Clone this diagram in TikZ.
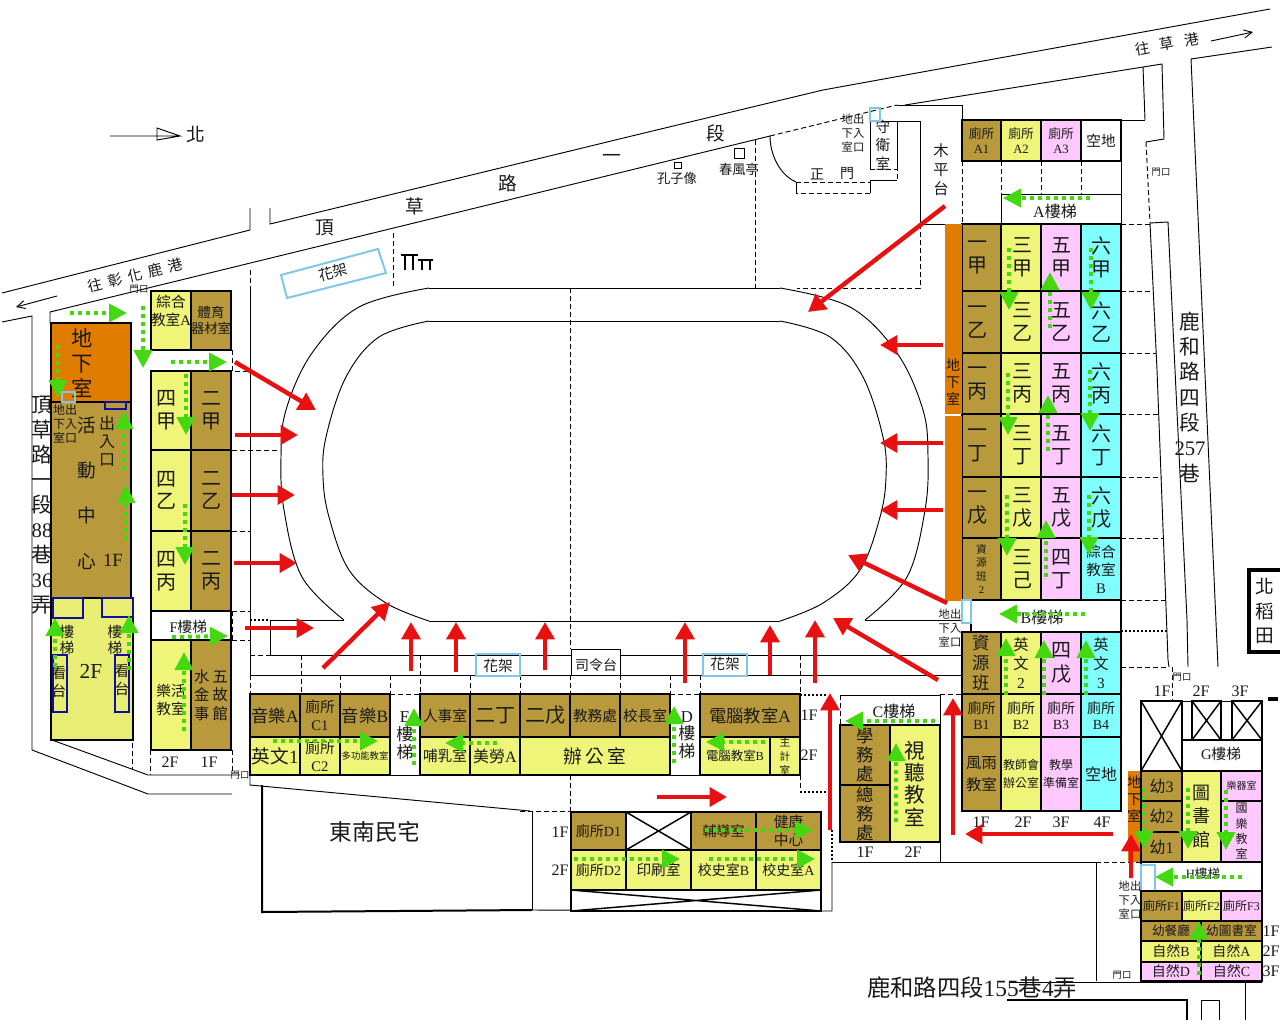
\documentclass[tikz,border=0pt]{standalone}
\usepackage{fontspec}
\setmainfont{Noto Sans CJK TC}
\newfontfamily\lf{Liberation Serif}
\usetikzlibrary{arrows.meta}
\definecolor{brn}{RGB}{184,153,60}
\definecolor{yel}{RGB}{238,245,120}
\definecolor{yeb}{RGB}{232,238,115}
\definecolor{pnk}{RGB}{255,200,255}
\definecolor{cya}{RGB}{128,255,255}
\definecolor{org}{RGB}{224,124,0}
\definecolor{grn}{RGB}{68,216,17}
\definecolor{rd}{RGB}{232,16,16}
\definecolor{lbl}{RGB}{128,200,232}
\definecolor{nav}{RGB}{16,16,160}
\newcommand\fsz[2]{\fontsize{#1pt}{#2pt}\selectfont}
\newcommand\fsa[1]{\fontsize{#1pt}{\dimexpr #1pt*5/4\relax}\selectfont}
\newcommand\La[1]{{\lf #1}}
\newcommand\gp{\hspace{4.5pt}}
\newcounter{nn}
\newcommand\room[7][]{\stepcounter{nn}%
  \path[rm,fill=#6] (#2,#3) rectangle (#4,#5);
  \node[tx,name=r\arabic{nn},#1] at ({(#2+#4)/2},{(#3+#5)/2}) {#7};}
\newcommand\tx[4][]{\stepcounter{nn}%
  \node[tx,name=t\arabic{nn},font=\fsa{#2},#1] at #3 {#4};}
\tikzset{
  tx/.style={inner sep=0pt,outer sep=0pt,align=center,text=black!90},
  rm/.style={draw=black,line width=0.9pt},
  ln/.style={draw=black,line width=0.7pt},
  dl/.style={draw=black,line width=0.7pt,dash pattern=on 3.75pt off 2.25pt},
  dt/.style={draw=black,line width=1.2pt,dash pattern=on 1.5pt off 1.5pt},
  xb/.style={draw=black,line width=1.1pt},
  lb/.style={draw=lbl,line width=1.5pt},
  nv/.style={draw=nav,line width=1.6pt},
  rar/.style={draw=rd,line width=3.3pt,-{Triangle[length=13pt,width=14pt]}},
  gar/.style={draw=grn,line width=3pt,dash pattern=on 3pt off 3pt,-{Triangle[length=13.5pt,width=13.5pt]}},
  s8/.style={font=\fsz{8}{10.5}},
  s9/.style={font=\fsz{9.5}{11.5}},
  s10/.style={font=\fsz{10.5}{12.5}},
  s11/.style={font=\fsz{11}{13.5}},
  s12/.style={font=\fsz{12}{14}},
  s13/.style={font=\fsz{13}{15}},
  s14/.style={font=\fsz{14}{16.5}},
  s15/.style={font=\fsz{15}{17}},
}
\begin{document}
\begin{tikzpicture}[x=0.75pt,y=-0.75pt]
\useasboundingbox (0,0) rectangle (1280,1024);
\fill[white] (0,0) rectangle (1280,1024);
% ---- roads
\path[ln] (250,208)--(250,230)--(2,293);
\path[ln] (2,322)--(32,316)--(32,750)--(148,794)--(232,794);
\path[ln] (50,323)--(50,312)--(770,136);
\path[ln] (270,208)--(270,224)--(640,134)--(823,90)--(1270,9);
\path[dl] (770,136)--(897,105);
\path[ln] (905,105)--(1162,64)--(1164,139)--(1146,142);
\path[ln] (1143,67)--(1145,120);
\path[ln] (1272,47)--(1191,59)--(1218,667);
\path[dl] (1146,142)--(1150,223);
\path[ln] (1150,223)--(1168,222)--(1175,370)--(1187,620)--(1188,667);
\path[ln] (1150,223)--(1157,370)--(1168,660)--(1169,667);
\path[dl] (1172,667)--(1172,700);
% ---- campus outline
\path[ln] (897,105)--(962,105)--(962,120)--(1145,120);
\path[ln] (870,121)--(920,121)--(920,224)--(1121,224);
\path[dl] (920,224)--(920,288)--(797,288);
\path[ln] (870,121)--(870,169);
\path[ln] (897,121)--(897,169);
\path[dl] (870,169)--(897,169)--(897,180);
\path[ln] (897,180)--(870,180)--(870,193);
\path[dl] (870,193)--(796,193);
\path[ln] (796,193)--(796,182);
\path[dl] (796,182)--(870,182);
\path[ln] (770,136) .. controls (770,155) and (780,175) .. (796,182);
\path[dl] (755,140)--(755,288);
\path[dl] (250,270)--(250,290);
\path[ln] (250,290)--(250,677);
\path[dl] (393,233)--(393,288);
\path[dl] (570,288)--(570,649);
% track
\path[ln] (429,288)--(780,288);
\path[ln] (429,321)--(780,321);
\path[ln] (429,621)--(780,621);
\path[ln] plot[smooth,tension=0.6] coordinates {(780,288)(850,307)(897,353)(923,410)(928,457)(925,510)(907,577)(865,620)};
\path[ln] plot[smooth,tension=0.6] coordinates {(780,321)(830,337)(863,377)(883,437)(886,477)(880,517)(860,570)(823,603)(780,621)};
\path[ln] plot[smooth,tension=0.6] coordinates {(429,288)(359,307)(312,353)(286,410)(281,457)(284,510)(302,577)(344,620)};
\path[ln] plot[smooth,tension=0.6] coordinates {(429,321)(379,337)(346,377)(326,437)(323,477)(329,517)(349,570)(386,603)(429,621)};
\path[ln] (270,620)--(344,620);
\path[ln] (865,620)--(962,620);
\path[dt] (250,620)--(270,620);
\path[ln] (270,620)--(270,655)--(962,655);
\path[dl] (250,655)--(270,655);
\path[ln] (250,675)--(962,675);
\foreach \xx/\yy in {250/675,301/655,340/675,390/675,420/655,470/675,520/675,570/675,620/675,670/675,700/675,800/655}{\path[dl] (\xx,\yy)--(\xx,693);}
\path[dl] (390,694)--(420,694);
\path[dl] (670,694)--(700,694);
\path[dt] (800,695)--(828,695);
\path[dl] (800,695)--(800,792);
\path[dt] (800,792)--(828,792);
\path[ln] (840,695)--(940,695);
\path[dl] (840,695)--(840,725);
\path[dl] (940,695)--(940,862);
\path[dt] (832,830)--(832,862);
\path[ln] (832,862)--(1096,862);
\path[dl] (1096,862)--(1141,862);
\path[ln] (832,862)--(832,911)--(532,910);
\path[ln] (532,811)--(532,910);
\path[dl] (520,811)--(570,811);
\path[dl] (570,775)--(570,811);
\path[ln] (250,775)--(250,785)--(530,811);
\path[draw=black,line width=1.5pt] (262,785)--(262,912)--(532,910);
\path[ln] (52,740)--(148,775)--(240,775);
\path[dl] (132,743)--(132,770);
\path[dl] (150,750)--(150,775);
\path[dl] (232,350)--(232,371)--(250,371);
\path[dl] (232,450)--(280,450);
\path[dl] (232,531)--(250,531);
\path[dl] (232,611)--(232,640);
\path[dl] (232,611)--(250,611);
\path[dl] (232,640)--(250,640);
\path[dl] (232,750)--(232,773);
% right side dashes
\path[dl] (1121,224)--(1150,224);
\path[dl] (1121,291)--(1153,291);
\path[dl] (1121,353)--(1156,353);
\path[dl] (1121,414)--(1159,414);
\path[dl] (1121,477)--(1162,477);
\path[dl] (1121,538)--(1164,538);
\path[dl] (1121,600)--(1168,600);
\path[dt] (1121,631)--(1168,631);
\path[dl] (1121,667)--(1168,667);
\path[dl] (962,161)--(962,224);
\foreach \xx in {1001,1041,1081}{\path[dl] (\xx,161)--(\xx,194);}
\path[ln] (1121,120)--(1121,224);
\path[ln] (1001,194)--(1121,194);
\path[ln] (1001,194)--(1001,224);
\path[ln] (940,655)--(962,655);
\path[dl] (940,694)--(962,694);
% bottom right road
\path[ln] (1096,862)--(1096,981);
\path[ln] (1010,982)--(1262,982);
\path[draw=black,line width=1pt] (1007,1000)--(1187,1000)--(1187,1020);
\path[ln] (1201,1020)--(1201,1000)--(1219,1000)--(1219,1020);
\path[ln] (1245,981)--(1245,1020);
% flower racks
\path[lb] (281,275)--(378,249)--(386,273)--(287,298)--cycle;
\tx[rotate=15]{11}{(333,272)}{花架}
\path[lb] (476,654) rectangle (520,676);
\tx{11}{(498,666)}{花架}
\path[lb] (703,654) rectangle (747,676);
\tx{11}{(725,664)}{花架}
\path[ln,fill=white] (571,649) rectangle (620,675);
\tx{10.5}{(596,665)}{司令台}
% pull-up bars
\path[draw=black,line width=1.5pt] (401,255)--(418,255) (405,255)--(405,270) (413,255)--(413,270) (418,260)--(433,260) (422,260)--(422,270) (430,260)--(430,270);
% monuments
\path[ln] (674,162) rectangle (681,168);
\path[ln] (734,148) rectangle (744,158);
\tx{10}{(677,178)}{孔子像}
\tx{10}{(739,169)}{春風亭}
\tx{10.5}{(817,174)}{正}
\tx{10.5}{(847,174)}{門}
\tx{8.5}{(853,133)}{地出\\下入\\室口}
\tx{11}{(883,145)}{守\\衛\\室}
\tx{11.5}{(941,170)}{木\\平\\台}
\path[lb] (870,108) rectangle (880,121);
% road labels
\tx{14}{(325,228)}{頂}
\tx{14}{(415,206)}{草}
\tx{14}{(508,183)}{路}
\tx{14}{(612,158)}{一}
\tx{14}{(716,133)}{段}
\tx[rotate=14]{11}{(135,275)}{往\gp 彰\gp 化\gp 鹿\gp 港}
\tx[rotate=10]{11}{(1167,44)}{往\hspace{7.5pt}草\hspace{7.5pt}港}
\path[ln,-{Straight Barb[length=6pt,width=6pt]}] (57,296)--(16,307);
\path[ln,-{Straight Barb[length=6pt,width=6pt]}] (1211,41)--(1253,32);
\path[ln] (110,136)--(180,136)--(157,128)--(157,140)--(180,136);
\tx{14}{(196,134)}{北}
\tx{7}{(139,289)}{門口}
\tx{7}{(1161,172)}{門口}
\tx{7}{(240,775)}{門口}
\tx{7}{(1182,677)}{門口}
\tx{7}{(1122,975)}{門口}
\tx[font=\fsz{15.5}{18.8}]{15}{(42,505)}{頂\\草\\路\\一\\段\\\La{88}\\巷\\\La{36}\\弄}
\tx[font=\fsz{15.5}{19}]{15}{(1190,397)}{鹿\\和\\路\\四\\段\\\La{257}\\巷}
\tx{17}{(375,832)}{東南民宅}
\tx{17.5}{(972,988)}{鹿和路四段\La{155}巷\La{4}弄}
% ---- activity center
\room[s15]{51}{323}{131}{402}{org}{}
\tx[font=\fsz{16}{18.8}]{16}{(82,363)}{地\\下\\室}
\room{51}{402}{131}{598}{brn}{}
\room{51}{598}{133}{740}{yeb}{}
\path[nv] (53,598) rectangle (83,618);
\path[nv] (102,598) rectangle (133,617);
\path[nv] (53,655) rectangle (67,712);
\path[nv] (115,655) rectangle (129,712);
\path[nv] (105,402) rectangle (126,409);
\path[lb] (62,392) rectangle (75,402);
\tx[font=\fsz{9}{10.5}]{9}{(65,424)}{地出\\下入\\室口}
\tx[font=\fsz{12}{13.5}]{12}{(107,441)}{出\\入\\口}
\tx[font=\fsz{14}{34}]{14}{(87,493)}{活\\動\\中\\心}
\tx{14}{(113,560)}{\La{1F}}
\tx{16}{(91,671)}{\La{2F}}
\tx[font=\fsz{11}{12.5}]{11}{(67,640)}{樓\\梯}
\tx[font=\fsz{11}{12.5}]{11}{(115,640)}{樓\\梯}
\tx[font=\fsz{11}{13}]{11}{(59,682)}{看\\台}
\tx[font=\fsz{11}{13}]{11}{(122,680)}{看\\台}
% ---- left rooms
\room[s11,yshift=7pt]{151}{291}{191}{350}{yel}{綜合\\教室\La{A}}
\room[font=\fsz{10}{12}]{191}{291}{231}{350}{brn}{體育\\器材室}
\room[s15,xshift=-3.4pt]{151}{371}{191}{450}{yel}{四\\甲}
\room[s15]{191}{371}{231}{450}{brn}{二\\甲}
\room[s15,xshift=-3.4pt]{151}{450}{191}{531}{yel}{四\\乙}
\room[s15]{191}{450}{231}{531}{brn}{二\\乙}
\room[s15,xshift=-3.4pt]{151}{531}{191}{611}{yel}{四\\丙}
\room[s15]{191}{531}{231}{611}{brn}{二\\丙}
\room[s11,xshift=-2pt,yshift=-1pt]{151}{611}{231}{640}{white}{\La{F}樓梯}
\room[s11,yshift=-3.5pt]{151}{640}{191}{750}{yel}{樂活\\教室}
\room[font=\fsz{11.5}{14}]{191}{640}{231}{750}{brn}{水\hspace{2.5pt}五\\金\hspace{2.5pt}故\\事\hspace{2.5pt}館}
\tx{12}{(170,762)}{\La{2F}}
\tx{12}{(209,762)}{\La{1F}}
% ---- centre block
\room[s13]{250}{694}{300}{737}{brn}{音樂\La{A}}
\room[s11]{300}{694}{340}{737}{brn}{廁所\\\La{C1}}
\room[s13]{340}{694}{390}{737}{brn}{音樂\La{B}}
\room[s11]{420}{694}{470}{737}{brn}{人事室}
\room[s15]{470}{694}{520}{737}{brn}{二丁}
\room[s15]{520}{694}{570}{737}{brn}{二戊}
\room[s11]{570}{694}{620}{737}{brn}{教務處}
\room[s11]{620}{694}{670}{737}{brn}{校長室}
\room[s13]{700}{694}{800}{737}{brn}{電腦教室\La{A}}
\room[s14]{250}{737}{300}{775}{yel}{英文\La{1}}
\room[s11]{300}{737}{340}{775}{yel}{廁所\\\La{C2}}
\room[font=\fsz{7}{9}]{340}{737}{390}{775}{yel}{多功能教室}
\room[s11]{420}{737}{470}{775}{yel}{哺乳室}
\room[s12]{470}{737}{520}{775}{yel}{美勞\La{A}}
\room[s14]{520}{737}{670}{775}{yel}{辦\,公\,室}
\room[font=\fsz{9.3}{11}]{700}{737}{770}{775}{yel}{電腦教室\La{B}}
\room[s8]{770}{737}{800}{775}{yel}{主\\計\\室}
\path[ln] (390,694)--(390,775)--(420,775)--(420,694);
\path[ln] (670,694)--(670,775)--(700,775)--(700,694);
\tx[font=\fsz{12.5}{13.5}]{12}{(405,736)}{\La{E}\\樓\\梯}
\tx[font=\fsz{12.5}{13}]{12}{(687,735)}{\La{D}\\樓\\梯}
\tx{12}{(809,715)}{\La{1F}}
\tx{12}{(809,755)}{\La{2F}}
% ---- C wing
\room[font=\fsz{13}{14.3}]{840}{725}{890}{785}{brn}{學\\務\\處}
\room[font=\fsz{13}{14.3}]{840}{785}{890}{842}{brn}{總\\務\\處}
\room[font=\fsz{15.5}{16.8}]{890}{725}{940}{842}{yel}{視\\聽\\教\\室}
\tx{12}{(894,711)}{\La{C}樓梯}
\tx{12}{(865,852)}{\La{1F}}
\tx{12}{(913,852)}{\La{2F}}
% ---- D wing
\room[s10]{571}{812}{626}{850}{brn}{廁所\La{D1}}
\room{626}{812}{691}{850}{white}{}
\path[xb] (626,812)--(691,850) (626,850)--(691,812);
\room[s10]{691}{812}{756}{850}{brn}{輔導室}
\room[s11]{756}{812}{821}{850}{brn}{健康\\中心}
\room[s10]{571}{850}{626}{890}{yel}{廁所\La{D2}}
\room[s11]{626}{850}{691}{890}{yel}{印刷室}
\room[s10]{691}{850}{756}{890}{yel}{校史室\La{B}}
\room[s10]{756}{850}{821}{890}{yel}{校史室\La{A}}
\room{571}{890}{821}{911}{white}{}
\path[xb] (571,890)--(821,911) (571,911)--(821,890);
\tx{12}{(560,832)}{\La{1F}}
\tx{12}{(560,870)}{\La{2F}}
% ---- right block
\room[s9]{962}{120}{1001}{161}{brn}{廁所\\\La{A1}}
\room[s9]{1001}{120}{1041}{161}{yel}{廁所\\\La{A2}}
\room[s9]{1041}{120}{1081}{161}{pnk}{廁所\\\La{A3}}
\room[s11]{1081}{120}{1121}{161}{white}{空地}
\tx{12}{(1055,211)}{\La{A}樓梯}
\foreach \ra/\rb/\rc in {224/291/甲,291/353/乙,353/414/丙,414/477/丁}{
  \room[s15,xshift=-3pt]{962}{\ra}{1001}{\rb}{brn}{一\\\rc}
  \room[s15,xshift=1pt]{1001}{\ra}{1041}{\rb}{yel}{三\\\rc}
  \room[s15]{1041}{\ra}{1081}{\rb}{pnk}{五\\\rc}
  \room[s15]{1081}{\ra}{1121}{\rb}{cya}{六\\\rc}
}
\room[s15,xshift=-3pt]{962}{477}{1001}{538}{brn}{一\\戊}
\room[s15,xshift=1pt]{1001}{477}{1041}{538}{yel}{三\\戊}
\room[s15]{1041}{477}{1081}{538}{pnk}{五\\戊}
\room[s15]{1081}{477}{1121}{538}{cya}{六\\戊}
\room[font=\fsz{8}{10}]{962}{538}{1001}{600}{brn}{資\\源\\班\\\La{2}}
\room[s15,xshift=1pt]{1001}{538}{1041}{600}{yel}{三\\己}
\room[s15]{1041}{538}{1081}{600}{pnk}{四\\丁}
\room[font=\fsz{11}{13.5}]{1081}{538}{1121}{600}{cya}{綜合\\教室\\\La{B}}
\room[s12]{971}{600}{1121}{632}{white}{}
\tx{12}{(1042,617)}{\La{B}樓梯}
\path[ln] (962,600)--(971,600);
\room[font=\fsz{13}{15}]{962}{632}{1001}{694}{brn}{資\\源\\班}
\room[font=\fsz{11.5}{14}]{1001}{632}{1041}{694}{yel}{英\\文\\\La{2}}
\room[font=\fsz{15}{18}]{1041}{632}{1081}{694}{pnk}{四\\戊}
\room[font=\fsz{11.5}{14}]{1081}{632}{1121}{694}{cya}{英\\文\\\La{3}}
\room[s10]{962}{694}{1001}{737}{brn}{廁所\\\La{B1}}
\room[s10]{1001}{694}{1041}{737}{yel}{廁所\\\La{B2}}
\room[s10]{1041}{694}{1081}{737}{pnk}{廁所\\\La{B3}}
\room[s10]{1081}{694}{1121}{737}{cya}{廁所\\\La{B4}}
\room[font=\fsz{11.5}{16}]{962}{737}{1001}{811}{brn}{風雨\\教室}
\room[font=\fsz{9}{13}]{1001}{737}{1041}{811}{yel}{教師會\\辦公室}
\room[font=\fsz{9}{13}]{1041}{737}{1081}{811}{pnk}{教學\\準備室}
\room[s12]{1081}{737}{1121}{811}{cya}{空地}
\tx{12}{(981,822)}{\La{1F}}
\tx{12}{(1023,822)}{\La{2F}}
\tx{12}{(1061,822)}{\La{3F}}
\tx{12}{(1102,822)}{\La{4F}}
\fill[org] (945,224) rectangle (962,414);
\fill[org] (945,416) rectangle (962,601);
\tx[font=\fsz{10.5}{13}]{10}{(953,382)}{地\\下\\室}
\path[lb] (962,600) rectangle (971,623);
\tx{8.5}{(950,628)}{地出\\下入\\室口}
\path[ln] (940,694)--(940,862);
% ---- kindergarten block
\path[ln] (1141,701)--(1262,701);
\room{1141}{701}{1182}{771}{white}{}
\path[xb] (1141,701)--(1182,771) (1141,771)--(1182,701);
\room{1182}{740}{1262}{771}{white}{}
\tx{11}{(1221,754)}{\La{G}樓梯}
\path[ln] (1262,701)--(1262,740);
\room{1192}{701}{1221}{740}{white}{}
\path[xb] (1192,701)--(1221,740) (1192,740)--(1221,701);
\room{1232}{701}{1262}{740}{white}{}
\path[xb] (1232,701)--(1262,740) (1232,740)--(1262,701);
\tx{12}{(1162,691)}{\La{1F}}
\tx{12}{(1201,691)}{\La{2F}}
\tx{12}{(1240,691)}{\La{3F}}
\fill[black] (1268,697) rectangle (1278,701);
\path[draw=black,line width=2.6pt,fill=white] (1249,570) rectangle (1290,652);
\tx[font=\fsz{14}{18.5}]{14}{(1265,611)}{北\\稻\\田}
\fill[org] (1128,771) rectangle (1141,862);
\tx[font=\fsz{10.5}{13}]{10}{(1134,799)}{地\\下\\室}
\room[s12]{1141}{771}{1182}{801}{brn}{幼\La{3}}
\room[s12]{1141}{801}{1182}{832}{brn}{幼\La{2}}
\room[s12]{1141}{832}{1182}{862}{brn}{幼\La{1}}
\room[font=\fsz{13.5}{17.5}]{1182}{771}{1221}{862}{yel}{圖\\書\\館}
\room[font=\fsz{7.5}{9}]{1221}{771}{1262}{801}{pnk}{樂器室}
\room[font=\fsz{9}{11.5}]{1221}{801}{1262}{862}{pnk}{國\\樂\\教\\室}
\room{1141}{862}{1262}{891}{white}{}
\path[lb,fill=white] (1141,865) rectangle (1155,891);
\tx{9.5}{(1203,874)}{\La{H}樓梯}
\tx{8.5}{(1130,900)}{地出\\下入\\室口}
\room[font=\fsz{9}{11}]{1141}{891}{1182}{921}{brn}{廁所\La{F1}}
\room[font=\fsz{9}{11}]{1182}{891}{1221}{921}{yel}{廁所\La{F2}}
\room[font=\fsz{9}{11}]{1221}{891}{1262}{921}{pnk}{廁所\La{F3}}
\room[font=\fsz{9.5}{11}]{1141}{921}{1201}{941}{brn}{幼餐廳}
\room[font=\fsz{9.5}{11}]{1201}{921}{1262}{941}{brn}{幼圖書室}
\room[s10]{1141}{941}{1201}{962}{yel}{自然\La{B}}
\room[s10]{1201}{941}{1262}{962}{yel}{自然\La{A}}
\room[s10]{1141}{962}{1201}{981}{pnk}{自然\La{D}}
\room[s10]{1201}{962}{1262}{981}{pnk}{自然\La{C}}
\tx{12}{(1271,931)}{\La{1F}}
\tx{12}{(1271,951)}{\La{2F}}
\tx{12}{(1271,971)}{\La{3F}}
% ---- red arrows
\path[rar] (945,206)--(808,312);
\path[rar] (943,345)--(880,345);
\path[rar] (943,443)--(880,443);
\path[rar] (943,510)--(880,510);
\path[rar] (947,603)--(848,555);
\path[rar] (938,680)--(833,618);
\path[rar] (953,835)--(953,698);
\path[rar] (830,830)--(830,693);
\path[rar] (815,683)--(815,620);
\path[rar] (770,675)--(770,625);
\path[rar] (685,683)--(685,622);
\path[rar] (545,670)--(545,622);
\path[rar] (456,672)--(456,622);
\path[rar] (411,671)--(411,622);
\path[rar] (323,668)--(390,602);
\path[rar] (235,362)--(316,410);
\path[rar] (235,435)--(298,435);
\path[rar] (232,495)--(295,495);
\path[rar] (234,563)--(297,563);
\path[rar] (245,628)--(314,628);
\path[rar] (657,797)--(727,797);
\path[rar] (1113,834)--(965,834);
\path[rar] (1131,878)--(1131,834);
% ---- green arrows
\path[gar] (70,313)--(127,313);
\path[gar] (143,306)--(143,368);
\path[gar] (171,362)--(227,362);
\path[gar] (186,374)--(186,435);
\path[gar] (185,504)--(185,565);
\path[gar] (58,345)--(58,398);
\path[gar] (124,470)--(124,411);
\path[gar] (126,540)--(126,485);
\path[gar] (55,667)--(55,618);
\path[gar] (129,670)--(129,615);
\path[gar] (172,637)--(228,636);
\path[gar] (184,731)--(184,652);
\path[gar] (273,741)--(378,741);
\path[gar] (414,765)--(414,708);
\path[gar] (497,743)--(445,743);
\path[gar] (674,763)--(674,706);
\path[gar] (765,742)--(706,742);
\path[gar] (935,721)--(845,721);
\path[gar] (896,822)--(896,743);
\path[gar] (705,830)--(813,830);
\path[gar] (574,859)--(680,859);
\path[gar] (709,859)--(815,859);
\path[gar] (1090,198)--(1003,198);
\path[gar] (1009,248)--(1009,310);
\path[gar] (1050,328)--(1050,272);
\path[gar] (1091,248)--(1091,310);
\path[gar] (1008,373)--(1008,435);
\path[gar] (1048,451)--(1048,395);
\path[gar] (1090,370)--(1090,431);
\path[gar] (1007,495)--(1007,556);
\path[gar] (1046,577)--(1046,520);
\path[gar] (1089,495)--(1089,555);
\path[gar] (1085,614)--(999,614);
\path[gar] (1006,695)--(1006,638);
\path[gar] (1044,695)--(1044,640);
\path[gar] (1086,695)--(1086,640);
\path[gar] (1144,788)--(1144,849);
\path[gar] (1188,788)--(1188,849);
\path[gar] (1226,790)--(1226,850);
\path[gar] (1242,877)--(1155,877);
\path[gar] (1199,975)--(1199,921);
\end{tikzpicture}
\end{document}
